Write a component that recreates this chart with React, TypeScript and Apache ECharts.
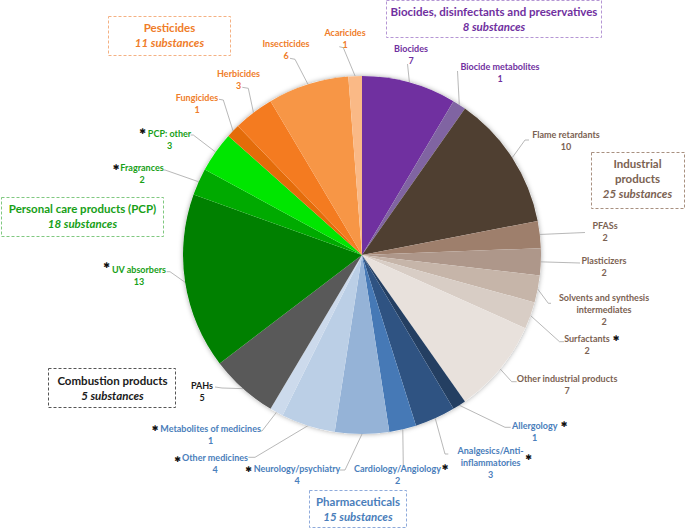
import React, { useEffect, useRef } from 'react';
import * as echarts from 'echarts';

// ---- Data ----
const categories = [
  'Biocides', 'Biocide metabolites',
  'Flame retardants', 'PFASs', 'Plasticizers', 'Solvents and synthesis\nintermediates', 'Surfactants', 'Other industrial products',
  'Allergology', 'Analgesics/Anti-\ninflammatories', 'Cardiology/Angiology', 'Neurology/psychiatry', 'Other medicines', 'Metabolites of medicines',
  'PAHs',
  'UV absorbers', 'Fragrances', 'PCP: other',
  'Fungicides', 'Herbicides', 'Insecticides', 'Acaricides',
];
const substanceCounts = [7, 1, 10, 2, 2, 2, 2, 7, 1, 3, 2, 4, 4, 1, 5, 13, 2, 3, 1, 3, 6, 1];
const categoryGroup = [0, 0, 1, 1, 1, 1, 1, 1, 2, 2, 2, 2, 2, 2, 3, 4, 4, 4, 5, 5, 5, 5];
const starred = ['Surfactants', 'Allergology', 'Analgesics/Anti-\ninflammatories', 'Cardiology/Angiology', 'Neurology/psychiatry', 'Other medicines', 'Metabolites of medicines', 'UV absorbers', 'Fragrances', 'PCP: other'];

const groupNames = ['Biocides, disinfectants and preservatives', 'Industrial\nproducts', 'Pharmaceuticals', 'Combustion products', 'Personal care products (PCP)', 'Pesticides'];
const groupCounts = [8, 25, 15, 5, 18, 11];

// ---- Styles ----
const sliceColors = [
  '#7030A0', '#8064A2',
  '#4F3F31', '#9E7F6C', '#AE978A', '#C6B5A9', '#D8CDC5', '#E8E1DC',
  '#243F62', '#2F5382', '#4679B6', '#95B3D7', '#BBCFE6', '#CCDAEC',
  '#595959',
  '#008000', '#00AA00', '#00E600',
  '#E46C0A', '#F47B20', '#F79646', '#FAB986',
];
const groupTextColors = ['#7030A0', '#7B6252', '#4A7EBB', '#1A1A1A', '#17A017', '#EF7D2A'];
const groupBorderColors = ['#B596D4', '#A89080', '#8EAADB', '#555555', '#80C880', '#F4B183'];

// label layout: [centerX, centerY, elbowX, elbowY, endX, endY]
const labelLayoutPos: number[][] = [
  [411, 54.5, 407.5, 64, 407.5, 64],
  [500, 72, 457.5, 71, 457.5, 71],
  [566, 140, 525, 140, 529, 140],
  [605, 231.5, 585, 232.5, 585, 232.5],
  [604, 266, 580, 263, 580, 263],
  [604, 309, 548.3, 303.3, 551, 303.3],
  [587, 344, 559.5, 341.7, 564, 341.7],
  [567, 384.5, 511.7, 381.7, 516.7, 381.7],
  [534.7, 431, 505, 427.3, 510.7, 427.3],
  [490.6, 462, 445, 454, 448.3, 454],
  [397.5, 474, 403.3, 467, 403.3, 467],
  [297, 474, 345, 470, 340, 470],
  [215, 463, 255, 457.3, 248.3, 457.3],
  [210.6, 434, 262, 431, 260, 431],
  [202, 391, 222, 388, 215, 387],
  [139, 275, 170, 271.7, 166.7, 271.7],
  [142, 173.5, 165, 170, 163.3, 170],
  [169.5, 139.5, 193.3, 135, 190.7, 135],
  [197, 103, 223.3, 100, 219, 99.3],
  [238.5, 79.5, 248.3, 88.3, 242.3, 87.3],
  [286, 49.5, 295, 59.3, 290, 58.3],
  [345, 38, 343.3, 47.7, 339.3, 46.7],
];
// asterisk positions keyed by category
const asteriskPos: Record<string, number[]> = {
  'Surfactants': [616, 338],
  'Allergology': [564, 424],
  'Analgesics/Anti-\ninflammatories': [528.5, 457],
  'Cardiology/Angiology': [445, 467],
  'Neurology/psychiatry': [248.5, 469.5],
  'Other medicines': [177.5, 459],
  'Metabolites of medicines': [155, 428],
  'UV absorbers': [106.5, 265],
  'Fragrances': [116, 167.5],
  'PCP: other': [142.5, 131.5],
};
// group boxes: [x, y, w, h, textCenterX, firstLineY]
const groupBoxes: number[][] = [
  [386.5, 0.5, 215, 37, 494, 11],
  [591.5, 152.5, 93, 56, 637.5, 163],
  [309.5, 490.5, 97, 37, 358, 501],
  [48.5, 368.5, 127, 39, 112.5, 380],
  [1.5, 197.5, 162, 39, 82.5, 208],
  [108.5, 16.5, 122, 39, 169.5, 27],
];

const FONT = 'Lato, "Liberation Sans", sans-serif';
const CX = 362;
const CY = 255;
const R = 179;

export default function App() {
  const ref = useRef<HTMLDivElement>(null);
  useEffect(() => {
    if (!ref.current) return;
    const chart = echarts.init(ref.current, null, { renderer: 'svg' });
    const total = substanceCounts.reduce((a, b) => a + b, 0);

    const data = categories.map((name, i) => ({
      name,
      value: substanceCounts[i],
      itemStyle: { color: sliceColors[i] },
      label: { color: groupTextColors[categoryGroup[i]] },
    }));

    const graphics: any[] = [];
    groupBoxes.forEach((b, g) => {
      graphics.push({
        type: 'rect',
        silent: true,
        shape: { x: b[0], y: b[1], width: b[2], height: b[3] },
        style: { fill: 'none', stroke: groupBorderColors[g], lineWidth: 1, lineDash: [3, 2] },
      });
      const lines = groupNames[g].split('\n');
      lines.forEach((ln, k) => {
        graphics.push({
          type: 'text',
          silent: true,
          style: {
            text: ln, x: b[4], y: b[5] + k * 15,
            fill: groupTextColors[g], font: `bold 11.5px ${FONT}`,
            align: 'center', verticalAlign: 'middle', textAlign: 'center', textVerticalAlign: 'middle',
          },
        });
      });
      graphics.push({
        type: 'text',
        silent: true,
        style: {
          text: `${groupCounts[g]} substances`, x: b[4], y: b[5] + lines.length * 15,
          fill: groupTextColors[g], font: `italic bold 11.5px ${FONT}`,
          align: 'center', verticalAlign: 'middle', textAlign: 'center', textVerticalAlign: 'middle',
        },
      });
    });
    starred.forEach((name) => {
      const p = asteriskPos[name];
      if (!p) return;
      graphics.push({
        type: 'text',
        silent: true,
        style: {
          text: '\u2731', x: p[0], y: p[1], fill: '#111111', font: `8px "DejaVu Sans", sans-serif`,
          align: 'center', verticalAlign: 'middle', textAlign: 'center', textVerticalAlign: 'middle',
        },
      });
    });

    chart.setOption({
      animation: false,
      backgroundColor: '#ffffff',
      graphic: graphics,
      series: [
        {
          type: 'pie',
          silent: true,
          center: [CX, CY],
          radius: R,
          z: 1,
          label: { show: false },
          labelLine: { show: false },
          data: [{ value: 1, itemStyle: { color: '#ffffff', shadowBlur: 5, shadowColor: 'rgba(0,0,0,0.35)' } }],
        },
        {
          type: 'pie',
          z: 2,
          center: [CX, CY],
          radius: R,
          startAngle: 90,
          clockwise: true,
          avoidLabelOverlap: false,
          itemStyle: { borderWidth: 0 },
          label: {
            show: true,
            position: 'outside',
            formatter: (p: any) => `${p.name}\n${p.value}`,
            fontFamily: FONT,
            fontWeight: 'bold',
            fontSize: 9,
            lineHeight: 12,
            align: 'center',
          },
          labelLine: {
            show: true,
            length: 10,
            length2: 10,
            lineStyle: { color: '#A6A6A6', width: 0.8 },
          },
          labelLayout: (params: any) => {
            const i = params.dataIndex;
            const L = labelLayoutPos[i];
            let p0 = params.labelLinePoints && params.labelLinePoints[0];
            if (!p0) {
              let before = 0;
              for (let k = 0; k < i; k++) before += substanceCounts[k];
              const mid = ((before + substanceCounts[i] / 2) / total) * Math.PI * 2;
              p0 = [CX + R * Math.sin(mid), CY - R * Math.cos(mid)];
            }
            return {
              x: L[0],
              y: L[1],
              align: 'center',
              verticalAlign: 'middle',
              labelLinePoints: [[p0[0], p0[1]], [L[2], L[3]], [L[4], L[5]]],
            };
          },
          data,
        },
      ],
    });
    return () => chart.dispose();
  }, []);
  return <div ref={ref} style={{ position: 'absolute', left: 0, top: 0, width: 685, height: 528 }} />;
}
